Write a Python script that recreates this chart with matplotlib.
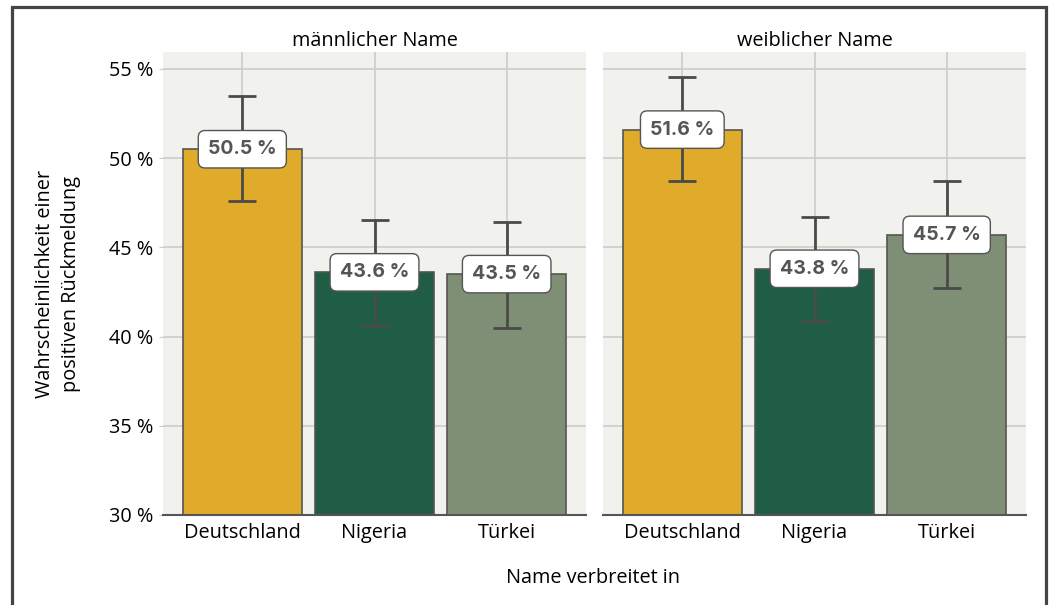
import matplotlib
matplotlib.use('Agg')
import matplotlib.pyplot as plt
from matplotlib.patches import Rectangle

plt.rcParams['font.family'] = ['Open Sans', 'DejaVu Sans']

countries = ['Deutschland', 'Nigeria', 'Türkei']
panels = ['männlicher Name', 'weiblicher Name']
means = [[50.5, 43.6, 43.5], [51.6, 43.8, 45.7]]
lower = [[47.6, 40.6, 40.5], [48.7, 40.9, 42.7]]
upper = [[53.5, 46.55, 46.4], [54.55, 46.7, 48.7]]
yticks = [30, 35, 40, 45, 50, 55]

colors = ['#E0AB2B', '#1F5E45', '#7F8F75']
bg = '#F1F2EE'
fs = 14.3

fig = plt.figure(figsize=(10.62, 6.05), dpi=100)
lefts = [163/1062, 603/1062]
w = 423/1062
bottom = 1 - 515/605
h = 463/605

for i, title in enumerate(panels):
  ax = fig.add_axes([lefts[i], bottom, w, h])
  ax.set_facecolor(bg)
  x = range(len(countries))
  ax.bar(x, means[i], width=0.9, color=colors, edgecolor='#555555', linewidth=1.2, zorder=2)
  err = [[m - l for m, l in zip(means[i], lower[i])], [u - m for m, u in zip(means[i], upper[i])]]
  ax.errorbar(x, means[i], yerr=err, fmt='none', ecolor='#4a4a4a', elinewidth=2, capsize=10, capthick=2, zorder=3)
  for xi, m in zip(x, means[i]):
    ax.text(xi, m, ('%.1f %%' % m), ha='center', va='center', fontsize=14, fontweight='bold', color='#555555',
            family=['Inter', 'DejaVu Sans'], zorder=4,
            bbox=dict(boxstyle='round,pad=0.5,rounding_size=0.35', fc='white', ec='#555555', lw=1))
  ax.set_ylim(30, 55.95)
  ax.set_xlim(-0.6, 2.6)
  ax.set_yticks(yticks)
  ax.set_xticks(list(x))
  ax.set_xticklabels(countries, fontsize=fs)
  ax.grid(True, color='#cccccc', linewidth=1.2, zorder=0)
  ax.set_axisbelow(True)
  for s in ['top', 'right', 'left']:
    ax.spines[s].set_visible(False)
  ax.spines['bottom'].set_color('#555555')
  ax.spines['bottom'].set_linewidth(1.5)
  ax.tick_params(axis='both', length=3, color='#cccccc', labelsize=fs, pad=4)
  ax.tick_params(axis='x', length=0, pad=6)
  ax.set_title(title, fontsize=fs, pad=4)
  if i == 0:
    ax.set_yticklabels(['%d %%' % t for t in yticks])
    ax.set_ylabel('Wahrscheinlichkeit einer\npositiven Rückmeldung', fontsize=fs, labelpad=20, linespacing=1.4)
  else:
    ax.set_yticklabels([])
    ax.tick_params(axis='y', length=0)

fig.text(593/1062, 1 - 578/605, 'Name verbreitet in', ha='center', va='center', fontsize=fs)
fig.patches.append(Rectangle((12/1062, -0.05), (1046 - 12)/1062, (605 - 7)/605 + 0.05,
                             transform=fig.transFigure, fill=False, ec='#444444', lw=2.3))

plt.savefig('out.png', dpi=100)
